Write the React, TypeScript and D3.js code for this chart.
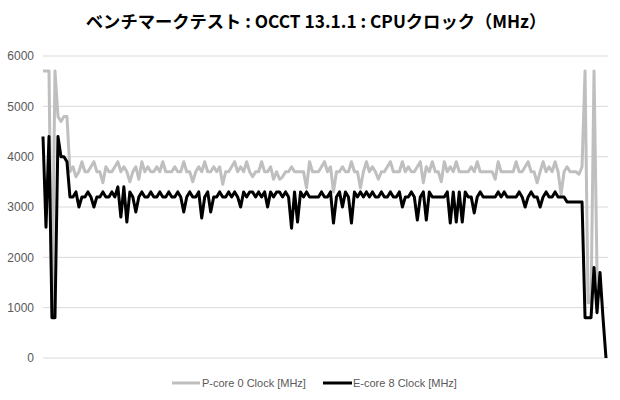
import React from 'react'
import * as d3 from 'd3'

const title = 'ベンチマークテスト : OCCT 13.1.1 : CPUクロック（MHz）'
const seriesNames = ['P-core 0 Clock [MHz]', 'E-core 8 Clock [MHz]']
const yTicks = [0, 1000, 2000, 3000, 4000, 5000, 6000]

// P-core 0 clock, one sample per step
const pCore = [
  5700, 5700, 5700, 800, 5700, 4800, 4700, 4800, 4800, 3700,
  3800, 3600, 3700, 3900, 3700, 3700, 3800, 3900, 3700, 3700,
  3480, 3800, 3700, 3700, 3800, 3900, 3700, 3800, 3700, 3500,
  3700, 3800, 3550, 3900, 3700, 3800, 3700, 3700, 3800, 3700,
  3900, 3700, 3700, 3700, 3800, 3700, 3700, 3900, 3700, 3700,
  3500, 3700, 3800, 3700, 3900, 3700, 3700, 3800, 3700, 3800,
  3450, 3700, 3700, 3800, 3900, 3700, 3800, 3700, 3900, 3700,
  3600, 3700, 3700, 3900, 3700, 3700, 3800, 3550, 3700, 3550,
  3600, 3700, 3700, 3800, 3700, 3700, 3700, 3700, 3380, 3900,
  3700, 3700, 3700, 3800, 3900, 3700, 3800, 3300, 3700, 3700,
  3800, 3700, 3700, 3900, 3700, 3700, 3380, 3700, 3900, 3700,
  3800, 3700, 3550, 3700, 3700, 3800, 3900, 3700, 3700, 3700,
  3900, 3700, 3800, 3700, 3700, 3800, 3900, 3480, 3800, 3700,
  3900, 3700, 3700, 3500, 3900, 3700, 3800, 3700, 3900, 3700,
  3700, 3700, 3700, 3800, 3700, 3900, 3700, 3700, 3700, 3700,
  3700, 3550, 3900, 3700, 3700, 3700, 3700, 3700, 3900, 3700,
  3700, 3800, 3900, 3700, 3700, 3480, 3700, 3900, 3700, 3800,
  3700, 3900, 3700, 3250, 3700, 3800, 3700, 3700, 3700, 3650,
  3800, 5700, 1100, 1100, 5700, 1700, 1200,
]

// E-core 8 clock
const eCore = [
  4400, 2600, 4400, 800, 800, 4400, 4000, 4000, 3900, 3200,
  3200, 3300, 3000, 3200, 3200, 3300, 3200, 3000, 3200, 3200,
  3300, 3200, 3200, 3300, 3200, 3400, 2800, 3400, 2700, 3300,
  3200, 2900, 3200, 3300, 3200, 3200, 3300, 3200, 3200, 3300,
  3200, 3200, 3300, 3200, 3200, 3300, 3200, 2900, 3200, 3300,
  3200, 3200, 3300, 2780, 3200, 3300, 2900, 3200, 3200, 3300,
  3200, 3200, 3300, 3200, 3300, 3200, 3000, 3300, 3200, 3300,
  3300, 3200, 3300, 3200, 3300, 3000, 3300, 3200, 3300, 3300,
  3200, 3300, 3200, 2580, 3300, 2700, 3300, 3200, 3300, 3200,
  3200, 3200, 3200, 3300, 3200, 3200, 3300, 2680, 3200, 3300,
  3000, 3300, 3200, 2680, 3300, 3200, 3300, 3200, 3300, 3200,
  3300, 3200, 3200, 3300, 3200, 3200, 3300, 3200, 3200, 3300,
  3000, 3200, 3200, 3300, 3200, 2740, 3200, 3300, 2740, 3300,
  3200, 3200, 3200, 3200, 3200, 3300, 2680, 3300, 2700, 3300,
  2700, 3300, 3200, 3200, 2880, 3200, 3300, 3200, 3200, 3200,
  3200, 3200, 3300, 3200, 3300, 3200, 3200, 3200, 3200, 3300,
  3200, 3000, 3200, 3300, 3200, 3200, 3000, 3200, 3300, 3200,
  3200, 3300, 3200, 3200, 3200, 3100, 3100, 3100, 3100, 3100,
  3100, 800, 800, 800, 1800, 900, 1700, 800, 0,
]

const colors = ['#bfbfbf', '#000000']

export default function App() {
  const width = 620
  const height = 400
  const margin = { top: 56, right: 12, bottom: 42, left: 43 }
  const innerW = width - margin.left - margin.right
  const innerH = height - margin.top - margin.bottom

  const x = d3.scaleLinear().domain([0, 188]).range([0, innerW - 2])
  const y = d3.scaleLinear().domain([0, 6000]).range([innerH, 0])

  const line = d3.line<number>()
    .x((_, i) => x(i))
    .y(d => y(d))

  const font = '"Liberation Sans", Arial, sans-serif'

  return (
    <svg width={width} height={height} style={{ position: 'absolute', left: 0, top: 0, background: '#fff' }}>
      <text x={316} y={28} textAnchor="middle" fontFamily={'"Noto Sans CJK JP", sans-serif'} fontWeight="bold" fontSize={17.3} fill="#000">
        {title}
      </text>
      <g transform={`translate(${margin.left},${margin.top})`}>
        {yTicks.map(t => (
          <g key={t}>
            <line x1={0} x2={innerW} y1={y(t)} y2={y(t)} stroke="#d9d9d9" strokeWidth={1} />
            <text x={-9} y={y(t)} dy="0.35em" textAnchor="end" fontFamily={font} fontSize={12} fill="#595959">{t}</text>
          </g>
        ))}
        <path d={line(pCore) || ''} fill="none" stroke={colors[0]} strokeWidth={3} strokeLinejoin="round" />
        <path d={line(eCore) || ''} fill="none" stroke={colors[1]} strokeWidth={3} strokeLinejoin="round" />
      </g>
      <g fontFamily={font} fontSize={11} fill="#595959">
        <line x1={172} x2={200} y1={383} y2={383} stroke={colors[0]} strokeWidth={3} />
        <text x={202} y={383} dy="0.35em">{seriesNames[0]}</text>
        <line x1={323} x2={352} y1={383} y2={383} stroke={colors[1]} strokeWidth={3} />
        <text x={353} y={383} dy="0.35em">{seriesNames[1]}</text>
      </g>
    </svg>
  )
}
